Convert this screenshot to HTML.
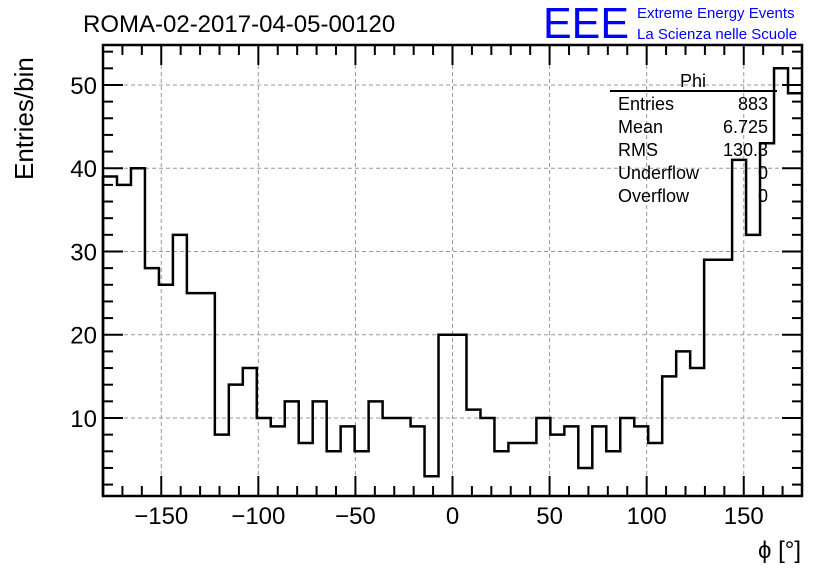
<!DOCTYPE html>
<html><head><meta charset="utf-8"><style>
body{margin:0;background:#fff}
svg text{font-family:"Liberation Sans",sans-serif}
</style></head><body>
<svg id="c" width="836" height="572" xmlns="http://www.w3.org/2000/svg">
<g id="grid"></g>
<path id="hist" fill="none" stroke="#000" stroke-width="2.5"/>
<g id="axes"></g>
<text x="83" y="32" font-size="24">ROMA-02-2017-04-05-00120</text>
<text x="543" y="38" font-size="44" fill="#0000ff" textLength="86" lengthAdjust="spacingAndGlyphs">EEE</text>
<text x="637" y="18" font-size="15" fill="#0000ff">Extreme Energy Events</text>
<text x="637" y="39" font-size="15" fill="#0000ff">La Scienza nelle Scuole</text>
<text transform="translate(33,180) rotate(-90)" font-size="26">Entries/bin</text>
<text x="801" y="558" font-size="24" text-anchor="end">ϕ [°]</text>
<g font-size="18">
<text x="693" y="87" text-anchor="middle">Phi</text>
<line x1="610" y1="91" x2="777" y2="91" stroke="#000" stroke-width="2"/>
<text x="618" y="110">Entries</text><text x="768" y="110" text-anchor="end">883</text>
<text x="618" y="133">Mean</text><text x="768" y="133" text-anchor="end">6.725</text>
<text x="618" y="156">RMS</text><text x="768" y="156" text-anchor="end">130.3</text>
<text x="618" y="179">Underflow</text><text x="768" y="179" text-anchor="end">0</text>
<text x="618" y="202">Overflow</text><text x="768" y="202" text-anchor="end">0</text>
</g>
</svg>
<script>
const binLow=-180, binWidth=7.2;
const counts=[39,38,40,28,26,32,25,25,8,14,16,10,9,12,7,12,6,9,6,12,10,10,9,3,20,20,11,10,6,7,7,10,8,9,4,9,6,10,9,7,15,18,16,29,29,41,32,43,52,49];
const xTicks=[-150,-100,-50,0,50,100,150];
const yTicks=[10,20,30,40,50];
const X0=103,X1=802,Y0=496,Y1=45,xmin=-180,xmax=180,ymin=0.63,ymax=54.8;
const sx=v=>X0+(v-xmin)/(xmax-xmin)*(X1-X0);
const sy=v=>Y0-(v-ymin)/(ymax-ymin)*(Y0-Y1);
const NS="http://www.w3.org/2000/svg";
function mk(tag,attrs,parent){const e=document.createElementNS(NS,tag);for(const k in attrs)e.setAttribute(k,attrs[k]);parent.appendChild(e);return e;}
const grid=document.getElementById('grid'),axes=document.getElementById('axes');
xTicks.forEach(t=>{const l=mk('line',{x1:sx(t),x2:sx(t),y1:Y0,y2:Y1,stroke:'#999','stroke-dasharray':'4,3','stroke-width':1},grid);

});
yTicks.forEach(t=>{const l=mk('line',{x1:X0,x2:X1,y1:sy(t),y2:sy(t),stroke:'#999','stroke-dasharray':'4,3','stroke-width':1},grid);

});
let d='M'+sx(binLow)+','+sy(ymin);
counts.forEach((c,i)=>{const a=sx(binLow+i*binWidth),b=sx(binLow+(i+1)*binWidth);d+=' L'+a+','+sy(c)+' L'+b+','+sy(c);});
document.getElementById('hist').setAttribute('d',d);
mk('rect',{x:X0,y:Y1,width:X1-X0,height:Y0-Y1,fill:'none',stroke:'#000','stroke-width':2.5},axes);
for(let v=-180;v<=180;v+=10){const maj=v%50===0;const x=sx(v);
mk('line',{x1:x,x2:x,y1:Y0,y2:Y0-(maj?20:10),stroke:'#000','stroke-width':2},axes);
mk('line',{x1:x,x2:x,y1:Y1,y2:Y1+(maj?20:10),stroke:'#000','stroke-width':2},axes);}
for(let v=2;v<=54;v+=2){const maj=v%10===0;const y=sy(v);
mk('line',{x1:X0,x2:X0+(maj?20:10),y1:y,y2:y,stroke:'#000','stroke-width':2},axes);
mk('line',{x1:X1,x2:X1-(maj?20:10),y1:y,y2:y,stroke:'#000','stroke-width':2},axes);}
xTicks.forEach(t=>{const e=mk('text',{x:sx(t),y:524,'font-size':24,'text-anchor':'middle'},axes);e.textContent=t<0?'\u2212'+(-t):t;

});
yTicks.forEach(t=>{const e=mk('text',{x:97,y:sy(t)+9,'font-size':24,'text-anchor':'end'},axes);e.textContent=t;

});
</script>
</body></html>
